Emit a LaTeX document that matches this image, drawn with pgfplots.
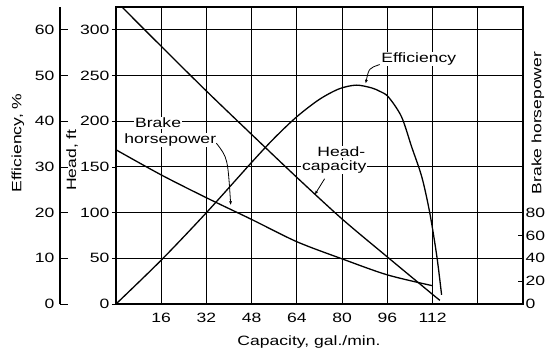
\documentclass[border=0pt]{standalone}
\usepackage{fontspec}
\setmainfont{Liberation Sans}[FakeStretch=1.3]
\usepackage{pgfplots}
\usepackage{pgfplotstable}
\pgfplotsset{compat=1.18}
\usetikzlibrary{arrows.meta}

% capacity (gal/min) vs head (ft)
\pgfplotstableread{
cap head
0 331.5
16 282
32 233
48 185.5
64 138.5
80 93
96 51.5
112 10.5
114.6 4
}\headdata

% capacity vs efficiency (%)
\pgfplotstableread{
cap eff
0 0
16 9.6
32 20
48 31
56 36.3
64 41
72 44.8
79 47.1
85 47.9
90.4 47.3
93.5 46.5
96.4 45.3
101 41
104.6 34.4
108.2 27.8
111 20
113.5 10.5
115.2 2
}\effdata

% capacity vs brake horsepower
\pgfplotstableread{
cap bhp
0 135
16 113
32 93
48 74
64 54.5
80 39.5
96 25.5
112 16
}\bhpdata

\pgfplotsset{
  every axis/.append style={
    width=407pt, height=297pt, scale only axis,
    xmin=0, xmax=144,
    /pgf/number format/assume math mode=true,
    font=\fontsize{13.5}{15}\selectfont,
    tick style={black, line width=0.8pt},
  },
  curve/.style={black, line width=1.3pt, no marks, smooth, tension=0.5},
}
\tikzset{
  note/.style={fill=white, inner sep=1pt, font=\fontsize{13.5}{15}\selectfont},
  leader/.style={black, line width=0.8pt, -{Latex[length=4pt,width=3pt]}},
}

\begin{document}
\begin{tikzpicture}
\path[use as bounding box] (-116pt,-46pt) rectangle (434pt,304pt);

% main axis: head, grid, frame
\begin{axis}[
    ymin=0, ymax=325,
    xtick={0,16,...,144},
    xticklabels={,16,32,48,64,80,96,112,,},
    xtick style={draw=none},
    ytick={0,50,...,300},
    ytick pos=left, tick align=outside, major tick length=4pt,
    grid=major, grid style={black, line width=0.9pt},
    axis line style={line width=1.3pt},
    xticklabel style={yshift=-2pt},
    yticklabel style={xshift=1pt},
]
    \addplot[curve] table[x=cap, y=head] {\headdata};

    \node[note] at (axis cs:107.1,268) {Efficiency};
    \draw[leader] (axis cs:93.3,262) .. controls (axis cs:89.5,258) .. (axis cs:88.3,241);

    \node[note] at (axis cs:14.9,198) {Brake};
    \node[note] at (axis cs:19.2,179.4) {horsepower};
    \draw[leader] (axis cs:35.5,176) .. controls (axis cs:39.5,160) .. (axis cs:40.6,108);

    \node[note] at (axis cs:79.7,166.3) {Head-};
    \node[note] at (axis cs:77.2,150) {capacity};
    \draw[leader] (axis cs:73.8,137) -- (axis cs:70.3,119.5);
\end{axis}

% efficiency scale, set out to the left
\begin{axis}[
    xshift=-56pt,
    ymin=0, ymax=65,
    hide x axis,
    axis y line*=left,
    axis line style={line width=1.3pt, -},
    ytick={0,10,...,60},
    tick align=inside, major tick length=8pt,
    yticklabel style={xshift=-2pt},
]
\end{axis}

% efficiency curve
\begin{axis}[ymin=0, ymax=65, hide axis]
    \addplot[curve] table[x=cap, y=eff] {\effdata};
\end{axis}

% brake horsepower scale and curve
\begin{axis}[
    ymin=0, ymax=260,
    hide x axis,
    axis y line*=right,
    axis line style={line width=1.3pt, -},
    ytick={0,20,...,80},
    tick align=inside, major tick length=5pt,
    yticklabel style={xshift=-1pt},
]
    \addplot[curve] table[x=cap, y=bhp] {\bhpdata};
\end{axis}

% axis titles
\begin{scope}[font=\fontsize{13.5}{15}\selectfont]
\node[rotate=90] at (-98pt,161pt) {Efficiency, \%};
\node[rotate=90] at (-44pt,144pt) {Head, ft};
\node[rotate=90] at (422pt,181pt) {Brake horsepower};
\node at (193pt,-38pt) {Capacity, gal./min.};
\end{scope}
\end{tikzpicture}
\end{document}
